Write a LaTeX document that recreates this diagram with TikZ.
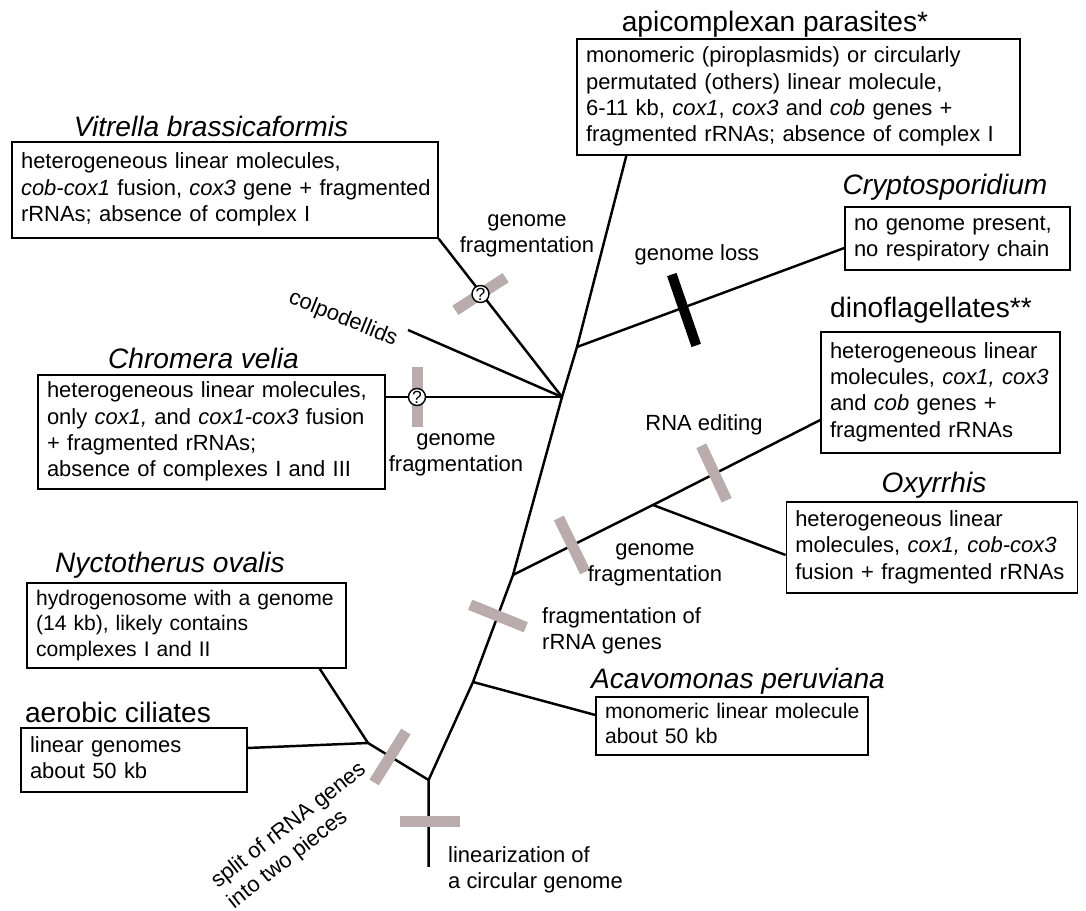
\documentclass[tikz,border=0pt]{standalone}
\usepackage{fontspec}
\setmainfont{Liberation Sans}
\definecolor{barcol}{RGB}{186,172,173}
\newcommand{\boxlines}[1]{\begin{tabular}{@{}l@{}}#1\end{tabular}}

\tikzset{
    branch/.style={line width=1.4pt, line join=round},
    infobox/.style={draw, line width=0.8pt, align=left, inner xsep=0.18cm, inner ysep=0pt, font=\fontsize{12.5}{15}\selectfont},
    taxon/.style={font=\fontsize{16}{19}\selectfont},
    event/.style={align=center, font=\fontsize{12.5}{15}\selectfont},
    greybar/.style={fill=barcol, minimum width=1.2cm, minimum height=0.22cm, inner sep=0pt},
    lossbar/.style={fill=black, minimum width=1.5cm, minimum height=0.2cm, inner sep=0pt},
    unsure/.style={circle, draw, line width=0.8pt, fill=white, minimum size=0.34cm, inner sep=0pt, font=\fontsize{10}{10}\selectfont},
}

\begin{document}
\begin{tikzpicture}[x=0.02cm, y=-0.02cm]
    \useasboundingbox (0,0) rectangle (1086,911);

    % boxes
    \node[infobox, text width=8.5cm, minimum height=2.32cm] (apic) at (798.5,97) {\boxlines{monomeric (piroplasmids) or circularly\\ permutated (others) linear molecule,\\ 6-11 kb, \textit{cox1}, \textit{cox3} and \textit{cob} genes +\\ fragmented rRNAs; absence of complex I}};
    \node[infobox, text width=8.16cm, minimum height=1.92cm] (vitr) at (225,190) {\boxlines{heterogeneous linear molecules,\\ \textit{cob-cox1} fusion, \textit{cox3} gene + fragmented\\ rRNAs; absence of complex I}};
    \node[infobox, text width=4.14cm, minimum height=1.26cm] (cry) at (957.5,238.5) {\boxlines{no genome present,\\ no respiratory chain}};
    \node[infobox, text width=6.58cm, minimum height=2.28cm] (chro) at (211.5,432) {\boxlines{heterogeneous linear molecules,\\ only \textit{cox1,} and \textit{cox1-cox3} fusion\\ + fragmented rRNAs;\\ absence of complexes I and III}};
    \node[infobox, text width=4.42cm, minimum height=2.42cm] (dino) at (940.5,392.5) {\boxlines{heterogeneous linear\\ molecules, \textit{cox1, cox3}\\ and \textit{cob} genes +\\ fragmented rRNAs}};
    \node[infobox, text width=5.47cm, minimum height=1.82cm] (oxy) at (932,547.5) {\boxlines{heterogeneous linear\\ molecules, \textit{cox1, cob-cox3}\\ fusion + fragmented rRNAs}};
    \node[infobox, text width=6.02cm, minimum height=1.7cm, font=\fontsize{12}{14.5}\selectfont] (nyct) at (186.5,625.5) {\boxlines{hydrogenosome with a genome\\ (14 kb), likely contains\\ complexes I and II}};
    \node[infobox, text width=4.16cm, minimum height=1.28cm] (aer) at (134,760) {\boxlines{linear genomes\\ about 50 kb}};
    \node[infobox, text width=5.08cm, minimum height=1.16cm, font=\fontsize{12}{14.5}\selectfont] (acav) at (732,726) {\boxlines{monomeric linear molecule\\ about 50 kb}};

    % taxon names
    \node[taxon] (apicT) at (775,24) {apicomplexan parasites*};
    \node[taxon] (vitrT) at (211,126) {\textit{Vitrella brassicaformis}};
    \node[taxon] (cryT) at (945,187) {\textit{Cryptosporidium}};
    \node[taxon] (chroT) at (203.5,358) {\textit{Chromera velia}};
    \node[taxon] (dinoT) at (931,310) {dinoflagellates**};
    \node[taxon] (oxyT) at (934,485) {\textit{Oxyrrhis}};
    \node[taxon] (nyctT) at (170,565) {\textit{Nyctotherus ovalis}};
    \node[taxon] (aerT) at (118,712) {aerobic ciliates};
    \node[taxon] (acavT) at (738,681) {\textit{Acavomonas peruviana}};

    % tree
    \coordinate (root) at (428.6,867);
    \coordinate (rootj) at (428.6,780);
    \coordinate (cilj) at (368,743);
    \coordinate (acavj) at (473,682);
    \coordinate (dinoj) at (513,575);
    \coordinate (oxyj) at (653,505);
    \coordinate (hub) at (562,397);
    \coordinate (cryj) at (577,347);
    \coordinate (colp) at (408,330);

    \draw[branch] (root) -- (rootj) -- (acavj) -- (dinoj) -- (hub) -- (cryj) -- ([xshift=1cm]apic.south west);
    \draw[branch] (rootj) -- (cilj) -- ([xshift=-0.54cm]nyct.south east);
    \draw[branch] (cilj) -- ([yshift=0.24cm]aer.east);
    \draw[branch] (acavj) -- ([yshift=0.22cm]acav.west);
    \draw[branch] (dinoj) -- (oxyj) -- ([yshift=-0.55cm]dino.west);
    \draw[branch] (oxyj) -- ([yshift=-0.15cm]oxy.west);
    \draw[branch] (cryj) -- ([yshift=-0.19cm]cry.west);
    \draw[branch] (hub) -- (vitr.south east);
    \draw[branch] (hub) -- (colp);
    \draw[branch] (hub) -- (chro.east |- hub);

    % events on the branches
    \node[greybar, rotate=33] (fragV) at (480.5,294) {};
    \node[greybar, rotate=90] (fragC) at (417,397) {};
    \node[greybar, rotate=-65] (edit) at (714,473) {};
    \node[greybar, rotate=-64] (fragD) at (572,545) {};
    \node[greybar, rotate=-22] (rrna) at (498,616) {};
    \node[greybar, rotate=58] (split) at (390,757) {};
    \node[greybar] (lin) at (430,822) {};
    \node[lossbar, rotate=-71] (loss) at (684,310) {};
    \node[unsure] (qV) at (fragV) {?};
    \node[unsure] (qC) at (fragC) {?};

    \node[event] (fragVL) at (527,236) {genome\\ fragmentation};
    \node[event] (lossL) at (697,255) {genome loss};
    \node[event, rotate=-22] (colpL) at (343,319) {colpodellids};
    \node[event] (fragCL) at (456,455) {genome\\ fragmentation};
    \node[event] (editL) at (704,425) {RNA editing};
    \node[event] (fragDL) at (655,565) {genome\\ fragmentation};
    \node[event, anchor=west, align=left] (rrnaL) at (536,631) {fragmentation of\\ rRNA genes};
    \node[event, anchor=west, align=left] (linL) at (442,870) {linearization of\\ a circular genome};
    \node[event, align=left, rotate=38] (splitL) at (297,836) {split of rRNA genes\\ into two pieces};
\end{tikzpicture}
\end{document}
